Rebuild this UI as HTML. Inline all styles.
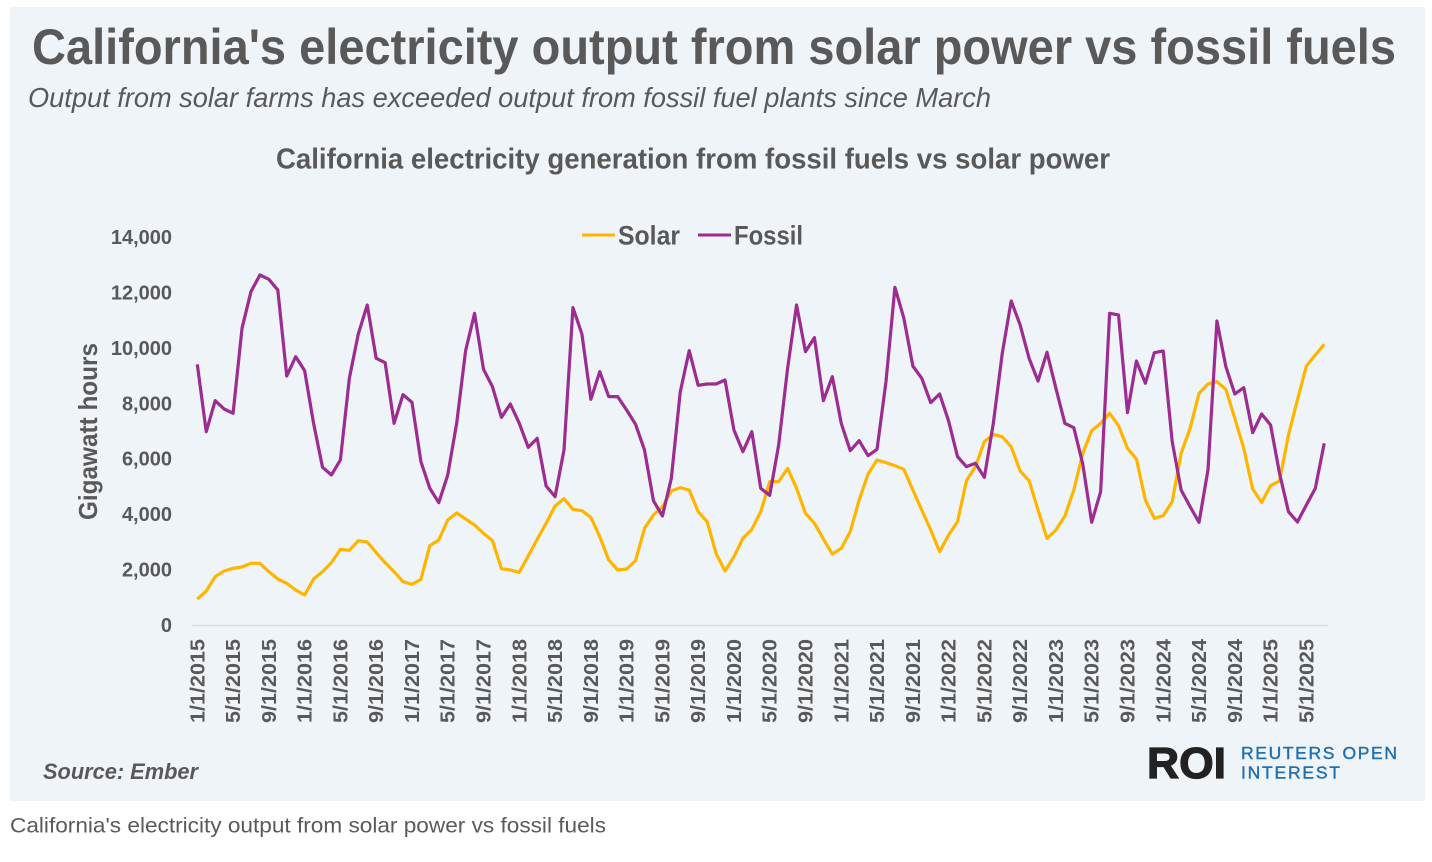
<!DOCTYPE html>
<html lang="en">
<head>
<meta charset="utf-8">
<title>California's electricity output from solar power vs fossil fuels</title>
<style>
html,body{margin:0;padding:0;background:#fff;width:1432px;height:862px;overflow:hidden}
svg{display:block}
text{font-family:"Liberation Sans",sans-serif;fill:#595959}
</style>
</head>
<body>
<svg id="chart" xmlns="http://www.w3.org/2000/svg" width="1432" height="862" viewBox="0 0 1432 862">
  <rect x="10" y="7" width="1415" height="794" fill="#eff4f9"/>
  <text x="32" y="64" font-size="50" font-weight="700" textLength="1364" lengthAdjust="spacingAndGlyphs">California's electricity output from solar power vs fossil fuels</text>
  <text x="28" y="107" font-size="28" font-style="italic" textLength="963" lengthAdjust="spacingAndGlyphs">Output from solar farms has exceeded output from fossil fuel plants since March</text>
  <text x="276" y="168.5" font-size="29" font-weight="700" textLength="834" lengthAdjust="spacingAndGlyphs">California electricity generation from fossil fuels vs solar power</text>
  <text transform="translate(97,520) rotate(-90)" font-size="26" font-weight="700" textLength="177" lengthAdjust="spacingAndGlyphs">Gigawatt hours</text>
  <g>
    <line x1="582" x2="615" y1="235" y2="235" stroke="#ffb500" stroke-width="3"/>
    <text x="618" y="244.5" font-size="27" font-weight="700" textLength="62" lengthAdjust="spacingAndGlyphs">Solar</text>
    <line x1="698" x2="731" y1="235" y2="235" stroke="#9c2c92" stroke-width="3"/>
    <text x="734" y="244.5" font-size="27" font-weight="700" textLength="69" lengthAdjust="spacingAndGlyphs">Fossil</text>
  </g>
  <line x1="192" x2="1328" y1="625.5" y2="625.5" stroke="#d9d9d9" stroke-width="1.2"/>
  <g id="y-ticks"></g>
  <g id="x-ticks"></g>
  <path id="solar-line" fill="none" stroke="#ffb500" stroke-width="3.2" stroke-linejoin="round"/>
  <path id="fossil-line" fill="none" stroke="#9c2c92" stroke-width="3.2" stroke-linejoin="round"/>
  <text x="43" y="779" font-size="22" font-weight="700" font-style="italic" textLength="155" lengthAdjust="spacingAndGlyphs">Source: Ember</text>
  <g>
    <text x="1147" y="778" font-size="44" font-weight="700" style="fill:#222222;stroke:#222222;stroke-width:1.2" textLength="79" lengthAdjust="spacingAndGlyphs">ROI</text>
    <text x="1241" y="759" font-size="17.5" style="fill:#1f6fb0;stroke:#1f6fb0;stroke-width:.4" textLength="156" lengthAdjust="spacing">REUTERS OPEN</text>
    <text x="1241" y="778.5" font-size="17.5" style="fill:#1f6fb0;stroke:#1f6fb0;stroke-width:.4" textLength="99" lengthAdjust="spacing">INTEREST</text>
  </g>
  <text x="10" y="832.5" font-size="21" textLength="596" lengthAdjust="spacingAndGlyphs" style="fill:#5a5a5a">California's electricity output from solar power vs fossil fuels</text>
</svg>
<script>
const solarValues = [
  956,1245,1762,1967,2063,2111,2244,2244,1943,1678,1522,1281,
  1101,1678,1943,2268,2749,2713,3062,3014,2629,2268,1943,1582,
  1486,1666,2881,3086,3807,4060,3843,3627,3326,3062,2051,2003,
  1919,2508,3110,3687,4313,4577,4192,4144,3904,3206,2364,2003,
  2039,2340,3507,3988,4289,4854,4974,4890,4108,3747,2604,1967,
  2484,3146,3471,4108,5191,5191,5672,4950,4048,3687,3122,2580,
  2785,3386,4529,5468,5973,5877,5768,5636,4890,4168,3446,2665,
  3266,3747,5227,5732,6635,6899,6815,6454,5576,5227,4168,3146,
  3446,3952,4890,6213,7032,7296,7657,7212,6394,6009,4529,3868,
  3964,4469,6213,7116,8379,8716,8800,8523,7477,6394,4926,4445,
  5047,5215,6875,8138,9365,9762,10147
];
const fossilValues = [
  9426,6995,8114,7813,7657,10725,12048,12650,12493,12108,9004,9702,
  9197,7296,5708,5432,5973,8920,10520,11567,9642,9486,7296,8331,
  8054,5913,4950,4433,5432,7296,9919,11266,9245,8620,7513,7994,
  7296,6430,6755,5035,4650,6334,11471,10520,8162,9161,8259,8259,
  7777,7260,6334,4505,3952,5311,8439,9919,8668,8716,8716,8860,
  7056,6274,6995,4950,4698,6514,9281,11567,9883,10388,8114,8980,
  7296,6310,6671,6129,6358,8800,12204,11086,9365,8920,8042,8355,
  7380,6093,5732,5853,5347,7296,9823,11711,10845,9642,8824,9859,
  8559,7296,7140,5829,3723,4830,11266,11206,7681,9546,8740,9847,
  9907,6635,4890,4289,3723,5612,10989,9341,8355,8583,6959,7633,
  7236,5492,4108,3735,4349,4950,6574
];
const yTickValues = [0,2000,4000,6000,8000,10000,12000,14000];
const xTickLabels = [
  "1/1/2015","5/1/2015","9/1/2015","1/1/2016","5/1/2016","9/1/2016",
  "1/1/2017","5/1/2017","9/1/2017","1/1/2018","5/1/2018","9/1/2018",
  "1/1/2019","5/1/2019","9/1/2019","1/1/2020","5/1/2020","9/1/2020",
  "1/1/2021","5/1/2021","9/1/2021","1/1/2022","5/1/2022","9/1/2022",
  "1/1/2023","5/1/2023","9/1/2023","1/1/2024","5/1/2024","9/1/2024",
  "1/1/2025","5/1/2025"
];
const monthsPerTick = 4;

const NS = 'http://www.w3.org/2000/svg';
function xScale(i){ return 197.3 + i * 8.944; }
function yScale(v){ return 625.5 - v * 0.02771; }
function linePath(vals){
  return vals.map(function(v,i){
    return (i ? 'L' : 'M') + xScale(i).toFixed(2) + ' ' + yScale(v).toFixed(2);
  }).join(' ');
}
document.getElementById('solar-line').setAttribute('d', linePath(solarValues));
document.getElementById('fossil-line').setAttribute('d', linePath(fossilValues));

const yGroup = document.getElementById('y-ticks');
yTickValues.forEach(function(v){
  const t = document.createElementNS(NS,'text');
  
  
  t.setAttribute('x', 172);
  t.setAttribute('y', yScale(v) + 6.5);
  t.setAttribute('text-anchor', 'end');
  t.setAttribute('font-size', '20');
  t.setAttribute('font-weight', '700');
  t.textContent = v.toLocaleString('en-US');
  yGroup.appendChild(t);
});

const xGroup = document.getElementById('x-ticks');
xTickLabels.forEach(function(label,k){
  const t = document.createElementNS(NS,'text');
  
  
  const px = xScale(k * monthsPerTick) + 7;
  t.setAttribute('transform', 'translate(' + px.toFixed(2) + ',723) rotate(-90)');
  t.setAttribute('font-size', '20.5');
  t.setAttribute('font-weight', '700');
  t.setAttribute('textLength', '84');
  t.setAttribute('lengthAdjust', 'spacingAndGlyphs');
  t.textContent = label;
  xGroup.appendChild(t);
});
</script>
</body>
</html>
